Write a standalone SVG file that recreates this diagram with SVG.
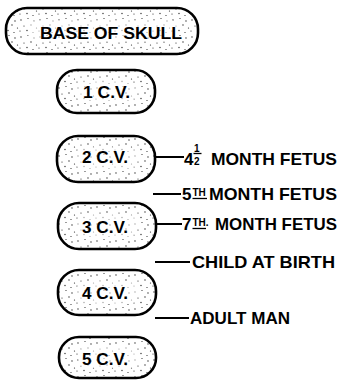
<svg xmlns="http://www.w3.org/2000/svg" width="340" height="381" viewBox="0 0 340 381">
<defs>
<pattern id="stip" width="19" height="17" patternUnits="userSpaceOnUse">
<rect width="19" height="17" fill="#fff"/>
<g fill="#222">
<circle cx="2" cy="3" r="0.65"/>
<circle cx="9" cy="1.5" r="0.6"/>
<circle cx="15" cy="4" r="0.65"/>
<circle cx="5" cy="9" r="0.6"/>
<circle cx="12" cy="8" r="0.65"/>
<circle cx="17.5" cy="11" r="0.6"/>
<circle cx="1" cy="14" r="0.6"/>
<circle cx="8" cy="13.5" r="0.65"/>
<circle cx="14" cy="15.5" r="0.6"/>
</g>
</pattern>
<style>
.box{fill:url(#stip);stroke:#000;stroke-width:2.6}
.hole{fill:#fff;opacity:0.55}
.lbl{font-family:"Liberation Sans",Arial,sans-serif;font-weight:bold;font-size:16px;fill:#000}
.rt{font-family:"Liberation Sans",Arial,sans-serif;font-weight:bold;font-size:17px;fill:#000}
.sm{font-family:"Liberation Sans",Arial,sans-serif;font-weight:bold;font-size:10px;fill:#000}
.ln{stroke:#000;stroke-width:2;fill:none}
.thin{stroke:#000;stroke-width:1.3;fill:none}
</style>
</defs>
<rect width="340" height="381" fill="#fff"/>

<g id="base">
<rect class="box" x="6" y="8" width="192" height="46" rx="21"/>
<rect class="hole" x="28" y="20" width="150" height="22" rx="8"/>
<text class="lbl" x="40" y="38.5" textLength="142" lengthAdjust="spacingAndGlyphs">BASE OF SKULL</text>
</g>
<g id="cv1">
<rect class="box" x="57" y="70" width="98" height="43" rx="20"/>
<rect class="hole" x="76" y="81" width="60" height="21" rx="8"/>
<text class="lbl" x="83" y="97.5" textLength="47" lengthAdjust="spacingAndGlyphs">1 C.V.</text>
</g>
<g id="cv2">
<rect class="box" x="57" y="136" width="98" height="46" rx="21"/>
<rect class="hole" x="76" y="147" width="60" height="23" rx="8"/>
<text class="lbl" x="82" y="163" textLength="46" lengthAdjust="spacingAndGlyphs">2 C.V.</text>
</g>
<g id="cv3">
<rect class="box" x="58" y="203" width="98" height="46" rx="21"/>
<rect class="hole" x="77" y="214" width="60" height="23" rx="8"/>
<text class="lbl" x="82" y="233" textLength="46" lengthAdjust="spacingAndGlyphs">3 C.V.</text>
</g>
<g id="cv4">
<rect class="box" x="58" y="270" width="98" height="45" rx="21"/>
<rect class="hole" x="77" y="281" width="60" height="23" rx="8"/>
<text class="lbl" x="82" y="298.5" textLength="46" lengthAdjust="spacingAndGlyphs">4 C.V.</text>
</g>
<g id="cv5">
<rect class="box" x="59" y="337" width="97" height="41" rx="20"/>
<rect class="hole" x="78" y="347" width="60" height="21" rx="8"/>
<text class="lbl" x="82" y="365" textLength="46" lengthAdjust="spacingAndGlyphs">5 C.V.</text>
</g>

<g id="connectors">
<line class="ln" x1="155" y1="157" x2="184" y2="157"/>
<line class="ln" x1="153" y1="194" x2="181" y2="194"/>
<line class="ln" x1="156" y1="224" x2="182" y2="224"/>
<line class="ln" x1="155" y1="262" x2="190" y2="262"/>
<line class="ln" x1="155" y1="318" x2="189" y2="318"/>
</g>

<g id="lab-4half">
<text class="rt" x="184" y="165">4</text>
<text class="sm" x="194" y="151.5">1</text>
<line class="thin" x1="193.5" y1="153.5" x2="201.5" y2="153.5"/>
<text class="sm" x="194" y="164.5">2</text>
<text class="rt" x="211" y="165" textLength="126" lengthAdjust="spacingAndGlyphs">MONTH FETUS</text>
</g>
<g id="lab-5th">
<text class="rt" x="182" y="200">5</text>
<text class="sm" x="192.5" y="196">TH</text>
<line class="thin" x1="192.5" y1="198.5" x2="207" y2="198.5"/>
<text class="rt" x="209" y="200" textLength="128" lengthAdjust="spacingAndGlyphs">MONTH FETUS</text>
</g>
<g id="lab-7th">
<text class="rt" x="182" y="230">7</text>
<text class="sm" x="192.5" y="226">TH.</text>
<line class="thin" x1="192.5" y1="228.5" x2="206" y2="228.5"/>
<text class="rt" x="215" y="230" textLength="122" lengthAdjust="spacingAndGlyphs">MONTH FETUS</text>
</g>
<g id="lab-birth">
<text class="rt" x="192" y="268" textLength="143" lengthAdjust="spacingAndGlyphs">CHILD AT BIRTH</text>
</g>
<g id="lab-adult">
<text class="rt" x="190" y="323.5" textLength="100" lengthAdjust="spacingAndGlyphs">ADULT MAN</text>
</g>
</svg>
